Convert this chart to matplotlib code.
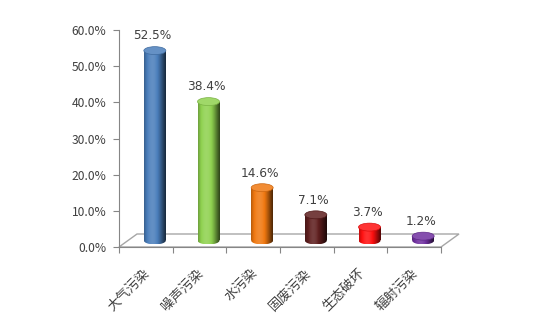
import numpy as np
import matplotlib
matplotlib.use("Agg")
import matplotlib.pyplot as plt
from matplotlib.patches import Ellipse, Polygon
from matplotlib.colors import to_rgb

plt.rcParams['font.family'] = ['Noto Sans CJK SC', 'DejaVu Sans']

categories = ["大气污染", "噪声污染", "水污染", "固废污染", "生态破坏", "辐射污染"]
values = [52.5, 38.4, 14.6, 7.1, 3.7, 1.2]
y_ticks = [0, 10, 20, 30, 40, 50, 60]

colors = ["#4a7ebb", "#8fd14f", "#f07810", "#5e1e1e", "#ff1010", "#7030a0"]

W, H = 556, 326
fig = plt.figure(figsize=(W / 100, H / 100), dpi=100)
ax = fig.add_axes([119 / W, (H - 247) / H, (441 - 119) / W, (247 - 30) / H])

n = len(categories)
ax.set_xlim(0, n)
ax.set_ylim(0, 60)

# depth offset (data units)
ddx = 18 / ((441 - 119) / n)
ddy = 13 / ((247 - 30) / 60)

grid_c = "#a6a6a6"
txt_c = "#404040"

# floor
floor = Polygon([(0, 0), (ddx, ddy), (n + ddx, ddy), (n, 0)], closed=True,
                fill=False, edgecolor=grid_c, lw=1.0, clip_on=False, zorder=1)
ax.add_patch(floor)

for s in ax.spines.values():
    s.set_visible(False)
ax.spines['left'].set_visible(True)
ax.spines['left'].set_color("#868686")
ax.spines['bottom'].set_visible(True)
ax.spines['bottom'].set_color("#868686")

ax.set_yticks(y_ticks)
ax.set_yticklabels([f"{v:.1f}%" for v in y_ticks])
ax.tick_params(axis='y', direction='out', length=4, color="#868686",
               labelsize=8.7, labelcolor=txt_c, pad=5)
ax.set_xticks(np.arange(0, n + 1))
ax.set_xticklabels([""] * (n + 1))
ax.tick_params(axis='x', direction='out', length=4, color="#868686")

bw = 22 / ((441 - 119) / n)
eh = 2.2
base = ddy / 2

def shade_img(col, npx=64):
    c = np.array(to_rgb(col))
    t = np.linspace(0, 1, npx)
    b = 0.62 + 0.55 * np.cos(np.pi * (t - 0.38) * 1.1)
    img = np.zeros((1, npx, 3))
    for k in range(npx):
        if b[k] >= 1:
            img[0, k] = c + (1 - c) * (b[k] - 1) * 0.8
        else:
            img[0, k] = c * b[k]
    return np.clip(img, 0, 1)

xc = np.arange(n) + 0.5 + ddx / 2
bars = ax.bar(xc, values, width=bw, bottom=base, color='none', edgecolor='none', zorder=3)
for i, (b, v, col) in enumerate(zip(bars, values, colors)):
    x0 = b.get_x()
    img = shade_img(col)
    im = ax.imshow(img, extent=(x0, x0 + bw, base - eh / 2, base + v), aspect='auto',
                   zorder=3, interpolation='bilinear')
    im.set_clip_path(b)
    be = Ellipse((xc[i], base), bw, eh, facecolor='none', edgecolor='none', zorder=3)
    ax.add_patch(be)
    im2 = ax.imshow(img, extent=(x0, x0 + bw, base - eh / 2, base + eh / 2), aspect='auto',
                    zorder=3, interpolation='bilinear')
    im2.set_clip_path(be)
    c = np.array(to_rgb(col))
    top_c = c + (1 - c) * 0.15
    te = Ellipse((xc[i], base + v), bw, eh, facecolor=top_c,
                 edgecolor=c * 0.85, lw=0.5, zorder=4)
    ax.add_patch(te)
    ax.annotate(f"{v:.1f}%", (xc[i] - 0.04, base + v + eh / 2), xytext=(0, 3),
                textcoords='offset points', ha='center', va='bottom',
                fontsize=8.7, color=txt_c, family=['DejaVu Sans'])

ax.set_xlim(0, n)
ax.set_ylim(0, 60)

for i, cat in enumerate(categories):
    ax.annotate(cat, (i + 0.5, 0), xytext=(-2, -14), textcoords='offset points',
                rotation=45, ha='right', va='top', rotation_mode='anchor',
                fontsize=9.5, color=txt_c)

fig.savefig("out.png", dpi=100, facecolor='white')
